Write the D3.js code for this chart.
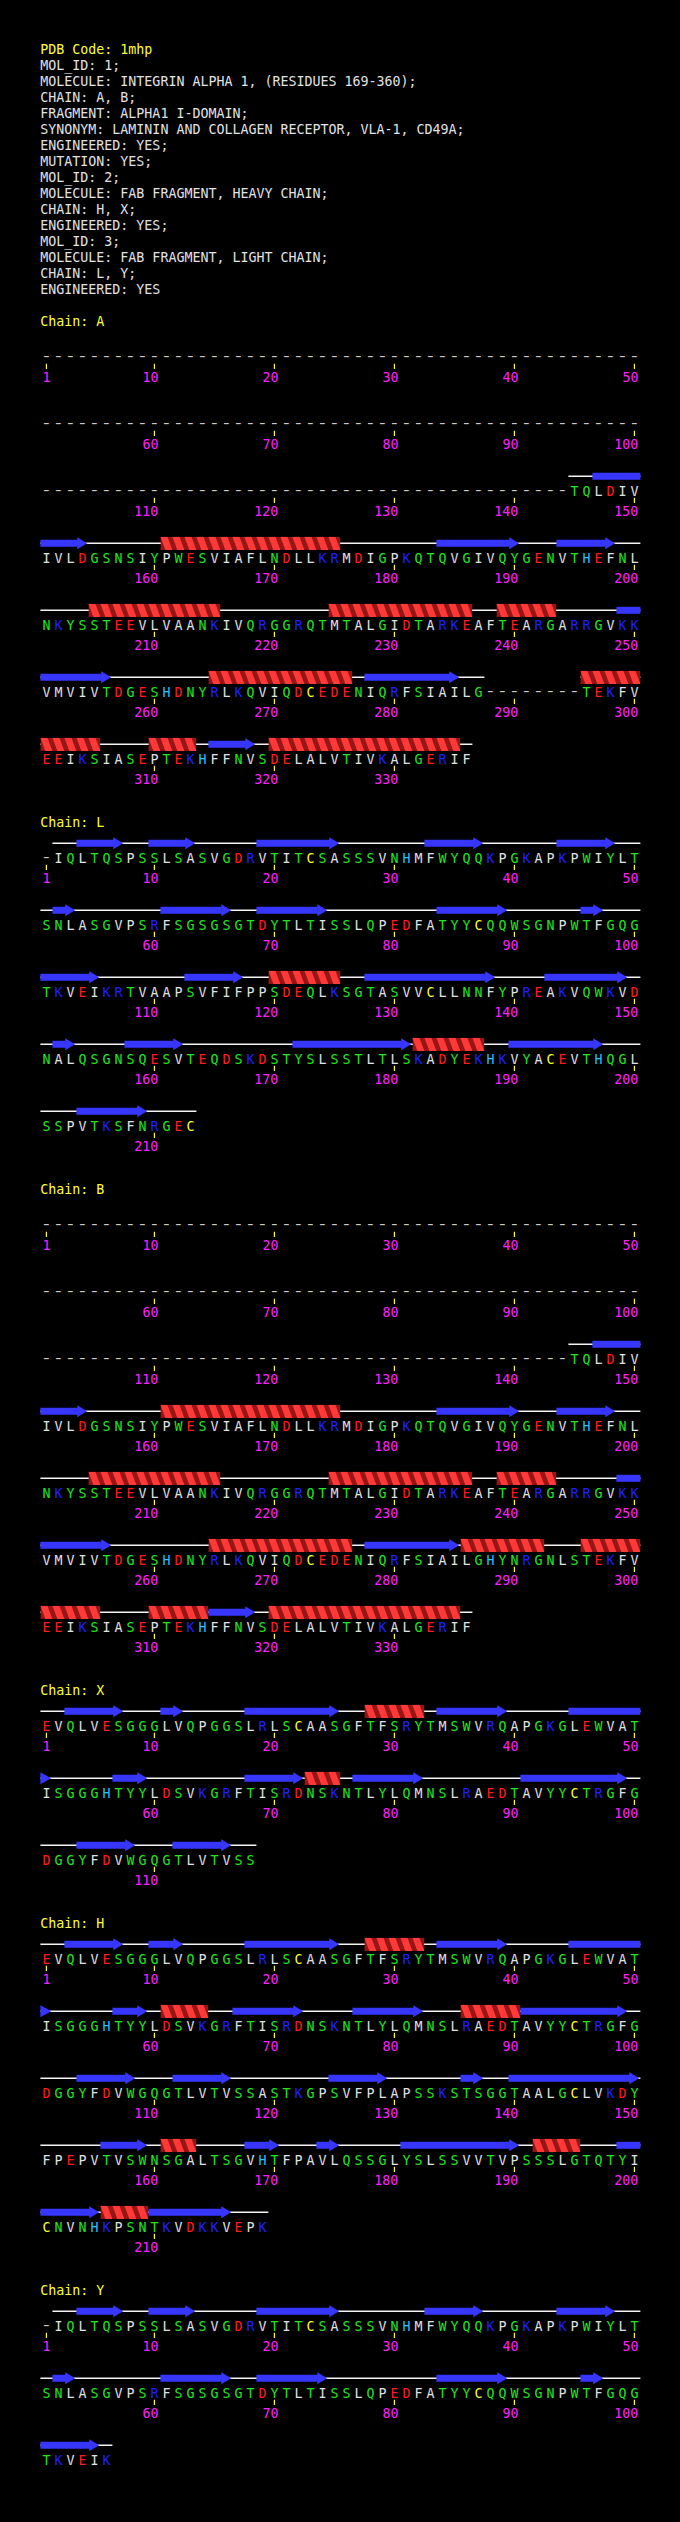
<!DOCTYPE html>
<html><head><meta charset="utf-8">
<script src="https://cdn.jsdelivr.net/npm/d3@7/dist/d3.min.js"></script>
<style>html,body{margin:0;padding:0;background:#000;}svg{display:block;}</style>
</head><body>
<svg id="chart" width="680" height="2522"></svg>
<script>
// ---------- DATA ----------
const headerLines = [
  "PDB Code: 1mhp",
  "MOL_ID: 1;",
  "MOLECULE: INTEGRIN ALPHA 1, (RESIDUES 169-360);",
  "CHAIN: A, B;",
  "FRAGMENT: ALPHA1 I-DOMAIN;",
  "SYNONYM: LAMININ AND COLLAGEN RECEPTOR, VLA-1, CD49A;",
  "ENGINEERED: YES;",
  "MUTATION: YES;",
  "MOL_ID: 2;",
  "MOLECULE: FAB FRAGMENT, HEAVY CHAIN;",
  "CHAIN: H, X;",
  "ENGINEERED: YES;",
  "MOL_ID: 3;",
  "MOLECULE: FAB FRAGMENT, LIGHT CHAIN;",
  "CHAIN: L, Y;",
  "ENGINEERED: YES"
];
const chainNames = ["A", "L", "B", "X", "H", "Y"];

// sequences, 50 residues per row, '-' = residue not observed
const seqA = [
  "----------" + "----------" + "----------" + "----------" + "----------",
  "----------" + "----------" + "----------" + "----------" + "----------",
  "----------" + "----------" + "----------" + "----------" + "----" + "TQLDIV",
  "IVLDGSNSIYPWESVIAFLNDLLKRMDIGPKQTQVGIVQYGENVTHEFNL",
  "NKYSSTEEVLVAANKIVQRGGRQTMTALGIDTARKEAFTEARGARRGVKK",
  "VMVIVTDGESHDNYRLKQVIQDCEDENIQRFSIAILG" + "--------" + "TEKFV",
  "EEIKSIASEPTEKHFFNVSDELALVTIVKALGERIF"
];
const seqL = [
  "-IQLTQSPSSLSASVGDRVTITCSASSSVNHMFWYQQKPGKAPKPWIYLT",
  "SNLASGVPSRFSGSGSGTDYTLTISSLQPEDFATYYCQQWSGNPWTFGQG",
  "TKVEIKRTVAAPSVFIFPPSDEQLKSGTASVVCLLNNFYPREAKVQWKVD",
  "NALQSGNSQESVTEQDSKDSTYSLSSTLTLSKADYEKHKVYACEVTHQGL",
  "SSPVTKSFNRGEC"
];
const seqB = [
  "----------" + "----------" + "----------" + "----------" + "----------",
  "----------" + "----------" + "----------" + "----------" + "----------",
  "----------" + "----------" + "----------" + "----------" + "----" + "TQLDIV",
  "IVLDGSNSIYPWESVIAFLNDLLKRMDIGPKQTQVGIVQYGENVTHEFNL",
  "NKYSSTEEVLVAANKIVQRGGRQTMTALGIDTARKEAFTEARGARRGVKK",
  "VMVIVTDGESHDNYRLKQVIQDCEDENIQRFSIAILGHYNRGNLSTEKFV",
  "EEIKSIASEPTEKHFFNVSDELALVTIVKALGERIF"
];
const seqX = [
  "EVQLVESGGGLVQPGGSLRLSCAASGFTFSRYTMSWVRQAPGKGLEWVAT",
  "ISGGGHTYYLDSVKGRFTISRDNSKNTLYLQMNSLRAEDTAVYYCTRGFG",
  "DGGYFDVWGQGTLVTVSS"
];
const seqH = [
  "EVQLVESGGGLVQPGGSLRLSCAASGFTFSRYTMSWVRQAPGKGLEWVAT",
  "ISGGGHTYYLDSVKGRFTISRDNSKNTLYLQMNSLRAEDTAVYYCTRGFG",
  "DGGYFDVWGQGTLVTVSSASTKGPSVFPLAPSSKSTSGGTAALGCLVKDY",
  "FPEPVTVSWNSGALTSGVHTFPAVLQSSGLYSLSSVVTVPSSSLGTQTYI",
  "CNVNHKPSNTKVDKKVEPK"
];
const seqY = [
  "-IQLTQSPSSLSASVGDRVTITCSASSSVNHMFWYQQKPGKAPKPWIYLT",
  "SNLASGVPSRFSGSGSGTDYTLTISSLQPEDFATYYCQQWSGNPWTFGQG",
  "TKVEIK"
];

// secondary structure, [first, last] residue numbers
const strandsA = [[147,154],[184,190],[194,198],[249,256],[278,285],[315,318]];
const helicesA = [[161,175],[205,215],[225,236],[239,243],[265,276],[296,305],[310,313],[320,335]];
const strandsL = [[4,7],[10,13],[19,25],[33,37],[44,48],[52,53],[61,66],[69,74],[84,89],[96,97],
                  [101,105],[113,117],[128,138],[143,149],[152,153],[158,162],[172,181],[190,197],[204,209]];
const helicesL = [[120,125],[182,187]];
const strandsB = [[147,154],[184,190],[194,198],[249,256],[278,285],[315,318]];
const helicesB = [[161,175],[205,215],[225,236],[239,243],[265,276],[286,292],[296,305],[310,314],[320,335]];
const strandsX = [[3,7],[11,12],[18,25],[34,39],[45,51],[57,59],[68,72],[77,82],[91,99],[104,108],[112,116]];
const helicesX = [[28,32],[73,75]];
const strandsH = [[3,7],[10,12],[18,25],[34,39],[45,51],[57,59],[67,72],[77,82],[91,99],[104,108],[112,116],
                  [125,129],[136,137],[140,150],[156,159],[168,170],[174,175],[181,190],[199,205],[210,216]];
const helicesH = [[28,32],[61,64],[86,90],[161,163],[192,195],[206,209]];
const strandsY = [[4,7],[10,13],[19,25],[33,37],[44,48],[52,53],[61,66],[69,74],[84,89],[96,97],[101,105]];
const helicesY = [];

// residue colour classes
const acidic = "DE", basic = "KR", polar = "NQSTGYW", histidine = "H", cysteine = "C";

// ---------- DRAWING ----------
const chains = [
  {name: chainNames[0], rows: seqA, strands: strandsA, helices: helicesA},
  {name: chainNames[1], rows: seqL, strands: strandsL, helices: helicesL},
  {name: chainNames[2], rows: seqB, strands: strandsB, helices: helicesB},
  {name: chainNames[3], rows: seqX, strands: strandsX, helices: helicesX},
  {name: chainNames[4], rows: seqH, strands: strandsH, helices: helicesH},
  {name: chainNames[5], rows: seqY, strands: strandsY, helices: helicesY}
];

const FONT = "'DejaVu Sans Mono', 'Liberation Mono', monospace";
const FS = 13.3;
const colWhite = "#e2e2e2", colYellow = "#ffff30", colMagenta = "#ff20ff";

function resColor(c) {
  if (c === "-") return "#c8c8c8";
  if (acidic.includes(c)) return "#ff1c1c";
  if (basic.includes(c)) return "#2020ff";
  if (histidine.includes(c)) return "#20c4ff";
  if (cysteine.includes(c)) return "#ffff20";
  if (polar.includes(c)) return "#20e620";
  return colWhite;
}

const svg = d3.select("#chart");
svg.append("rect").attr("width", 680).attr("height", 2522).attr("fill", "#000");
const defs = svg.append("defs");

const x = d3.scaleLinear().domain([1, 50]).range([46.4, 634.4]);
const half = 6;
const rowPitch = 67, titleToRow = 36, chainGap = 63;
const y = d3.scaleLinear().domain([0, 1]).range([0, rowPitch]); // row index -> offset

// header
const header = svg.append("g");
header.selectAll("text").data(headerLines).join("text")
  .attr("x", 40.3)
  .attr("y", (d, i) => 53.7 + i * 16)
  .attr("font-family", FONT).attr("font-size", FS)
  .attr("fill", (d, i) => i === 0 ? colYellow : colWhite)
  .attr("xml:space", "preserve")
  .style("white-space", "pre")
  .text(d => d);

let clipId = 0;
let titleY = 325.7;

chains.forEach(ch => {
  const g = svg.append("g");
  g.append("text").attr("x", 40.3).attr("y", titleY)
    .attr("font-family", FONT).attr("font-size", FS).attr("fill", colYellow)
    .text("Chain: " + ch.name);

  ch.rows.forEach((row, r) => {
    const B = titleY + titleToRow + y(r);
    const yc = B - 19.4;
    const rs = r * 50 + 1, re = r * 50 + row.length;
    const rg = g.append("g");
    const residues = row.split("").map((c, i) => ({c, j: i + 1, n: rs + i}));

    // coil lines over runs of observed residues
    const runs = [];
    residues.forEach(d => {
      if (d.c === "-") return;
      const last = runs[runs.length - 1];
      if (last && last[1] === d.j - 1) last[1] = d.j; else runs.push([d.j, d.j]);
    });
    rg.selectAll("line.coil").data(runs).join("line").attr("class", "coil")
      .attr("x1", d => x(d[0]) - half).attr("x2", d => x(d[1]) + half)
      .attr("y1", yc).attr("y2", yc)
      .attr("stroke", "#f4f4f4").attr("stroke-width", 1.5);

    // strands
    ch.strands.forEach(([s, e]) => {
      const a = Math.max(s, rs), b = Math.min(e, re);
      if (a > b) return;
      const xs = x(a - rs + 1) - half, xe = x(b - rs + 1) + half;
      const endsHere = e <= re;
      let pts;
      if (!endsHere) {
        pts = [[xs, yc - 3.5], [xe, yc - 3.5], [xe, yc + 3.5], [xs, yc + 3.5]];
      } else {
        const tip = xe - 1.2;
        const L = Math.min(10, tip - xs);
        const hb = tip - L;
        if (hb - xs < 1) {
          pts = [[xs, yc - 6], [tip, yc], [xs, yc + 6]];
        } else {
          pts = [[xs, yc - 3.5], [hb, yc - 3.5], [hb, yc - 6], [tip, yc], [hb, yc + 6], [hb, yc + 3.5], [xs, yc + 3.5]];
        }
      }
      rg.append("polygon").attr("points", pts.map(p => p.join(",")).join(" "))
        .attr("fill", "#3636ff");
    });

    // helices
    ch.helices.forEach(([s, e]) => {
      const a = Math.max(s, rs), b = Math.min(e, re);
      if (a > b) return;
      const xs = x(a - rs + 1) - half, xe = x(b - rs + 1) + half;
      const top = yc - 6.6, bot = yc + 6.6, slant = 5;
      const id = "hclip" + (clipId++);
      defs.append("clipPath").attr("id", id).append("rect")
        .attr("x", xs).attr("y", top).attr("width", xe - xs).attr("height", bot - top);
      const hg = rg.append("g").attr("clip-path", "url(#" + id + ")");
      hg.append("rect").attr("x", xs).attr("y", top).attr("width", xe - xs).attr("height", bot - top).attr("fill", "#961616");
      const starts = d3.range(a - 1, b + 1).map(n => x(n - rs + 1) - half);
      hg.selectAll("polygon").data(starts).join("polygon")
        .attr("points", sx => [[sx, top], [sx + 7, top], [sx + 7 + slant, bot], [sx + slant, bot]].map(p => p.join(",")).join(" "))
        .attr("fill", "#ff3838");
    });

    // residue letters (observed)
    rg.selectAll("text.res").data(residues.filter(d => d.c !== "-")).join("text").attr("class", "res")
      .attr("x", d => x(d.j)).attr("y", B)
      .attr("text-anchor", "middle")
      .attr("font-family", FONT).attr("font-size", FS)
      .attr("fill", d => resColor(d.c))
      .text(d => d.c);
    // gap markers (unobserved residues), slightly widened hyphens
    rg.selectAll("text.gap").data(residues.filter(d => d.c === "-")).join("text").attr("class", "gap")
      .attr("transform", d => `translate(${x(d.j)},${B - 1}) scale(1.4,1)`)
      .attr("text-anchor", "middle")
      .attr("font-family", FONT).attr("font-size", FS)
      .attr("fill", resColor("-"))
      .text(d => d.c);

    // ticks and numbers
    const marks = residues.filter(d => d.n === 1 || d.n % 10 === 0);
    rg.selectAll("line.tick").data(marks).join("line").attr("class", "tick")
      .attr("x1", d => x(d.j)).attr("x2", d => x(d.j))
      .attr("y1", B + 2).attr("y2", B + 7.3)
      .attr("stroke", "#ffff20").attr("stroke-width", 1.2);
    rg.selectAll("text.num").data(marks).join("text").attr("class", "num")
      .attr("x", d => x(d.j) + 4).attr("y", B + 20.6)
      .attr("text-anchor", "end")
      .attr("font-family", FONT).attr("font-size", FS)
      .attr("fill", colMagenta)
      .text(d => d.n);
  });

  titleY = titleY + titleToRow + y(ch.rows.length - 1) + chainGap;
});
</script>
</body></html>
